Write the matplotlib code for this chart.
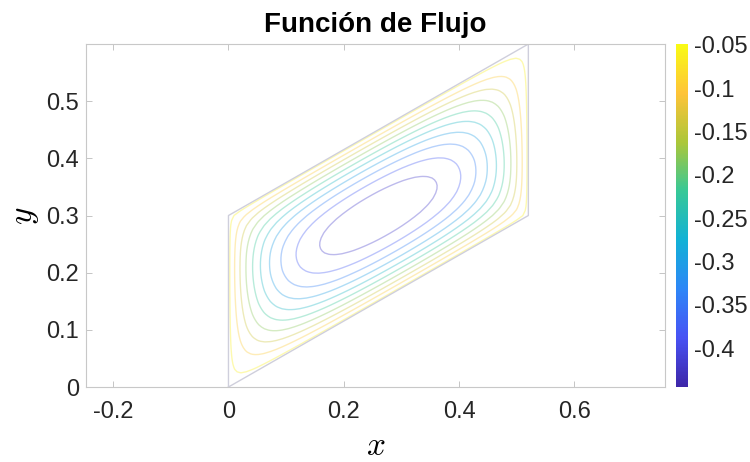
import numpy as np
import matplotlib
matplotlib.use("Agg")
import matplotlib.pyplot as plt
from matplotlib.colors import LinearSegmentedColormap, Normalize
from matplotlib.cm import ScalarMappable

plt.rcParams['font.family'] = ['Liberation Sans', 'DejaVu Sans']
plt.rcParams['mathtext.fontset'] = 'cm'

# dominio (paralelogramo)
dom_x = [0, 0.52, 0.52, 0, 0]
dom_y = [0, 0.3, 0.6, 0.3, 0]

# niveles de contorno y limites
niveles = [-0.42, -0.38, -0.34, -0.30, -0.26, -0.22, -0.18, -0.14, -0.10, -0.06]
psi_centro = -0.452   # valor en el centro del vortice
psi_borde = -0.049    # valor en la pared
clim = (-0.445, -0.049)
cb_ticks = [-0.4, -0.35, -0.3, -0.25, -0.2, -0.15, -0.1, -0.05]
cb_labels = ['-0.4', '-0.35', '-0.3', '-0.25', '-0.2', '-0.15', '-0.1', '-0.05']
x_ticks = [-0.2, 0, 0.2, 0.4, 0.6]
x_labels = ['-0.2', '0', '0.2', '0.4', '0.6']
y_ticks = [0, 0.1, 0.2, 0.3, 0.4, 0.5]
y_labels = ['0', '0.1', '0.2', '0.3', '0.4', '0.5']

# colormap tipo parula
parula = LinearSegmentedColormap.from_list('parula', [
    (0.2422, 0.1504, 0.6603), (0.2810, 0.3228, 0.9579), (0.1786, 0.5289, 0.9682),
    (0.0689, 0.6948, 0.8394), (0.2161, 0.7843, 0.5923), (0.6720, 0.7793, 0.2227),
    (0.9970, 0.7659, 0.2199), (0.9769, 0.9839, 0.0805)])

# funcion de flujo: Poisson en coordenadas oblicuas (s,t)
a = dom_x[1]
b = dom_y[1]
c = dom_y[3]
N = 51
n = N - 2
h = 1.0 / (N - 1)
I = np.eye(n)
D2 = (np.diag(-2 * np.ones(n)) + np.diag(np.ones(n - 1), 1) + np.diag(np.ones(n - 1), -1)) / h**2
D1 = (np.diag(np.ones(n - 1), 1) - np.diag(np.ones(n - 1), -1)) / (2 * h)
A = 1 / a**2
B = -2 * b / (a**2 * c)
C = b**2 / (a**2 * c**2) + 1 / c**2
L = A * np.kron(D2, I) + B * np.kron(D1, D1) + C * np.kron(I, D2)
sol = np.linalg.solve(L, -np.ones(n * n))
psi = np.zeros((N, N))
psi[1:-1, 1:-1] = sol.reshape(n, n)
psi = psi / psi.max()
Z = psi_borde + (psi_centro - psi_borde) * psi

s = np.linspace(0, 1, N)
S, T = np.meshgrid(s, s, indexing='ij')
X = a * S
Y = b * S + c * T

fig = plt.figure(figsize=(7.5, 4.62), dpi=100)
ax = fig.add_axes([0.1147, 0.1623, 0.772, 0.7424])
cax = fig.add_axes([0.9013, 0.1623, 0.016, 0.7424])

norm = Normalize(vmin=clim[0], vmax=clim[1])
ax.contour(X, Y, Z, levels=niveles, cmap=parula, norm=norm, linewidths=1.0, alpha=0.35)
ax.plot(dom_x, dom_y, color='#cfcfdc', lw=1.0)

ax.set_xlim(-0.247, 0.757)
ax.set_ylim(0, 0.6)
ax.set_xticks(x_ticks)
ax.set_xticklabels(x_labels)
ax.set_yticks(y_ticks)
ax.set_yticklabels(y_labels)
ax.tick_params(direction='in', length=4, color='#bbbbbb', labelsize=17, labelcolor='#262626',
               top=True, right=True, width=0.6)
ax.tick_params(axis='x', pad=10)
ax.tick_params(axis='y', pad=5)
for sp in ax.spines.values():
    sp.set_color('#c8c8c8')
    sp.set_linewidth(0.8)

ax.set_title('Función de Flujo', fontsize=20, fontweight='bold', pad=9)
ax.set_xlabel('$x$', fontsize=24, labelpad=6)
ax.set_ylabel('$y$', fontsize=24, labelpad=4)

cb = fig.colorbar(ScalarMappable(norm=norm, cmap=parula), cax=cax)
cb.set_ticks(cb_ticks)
cb.set_ticklabels(cb_labels)
cb.ax.tick_params(labelsize=17, labelcolor='#262626', length=0, pad=4)
cb.outline.set_visible(False)

fig.savefig('out.png', dpi=100)
